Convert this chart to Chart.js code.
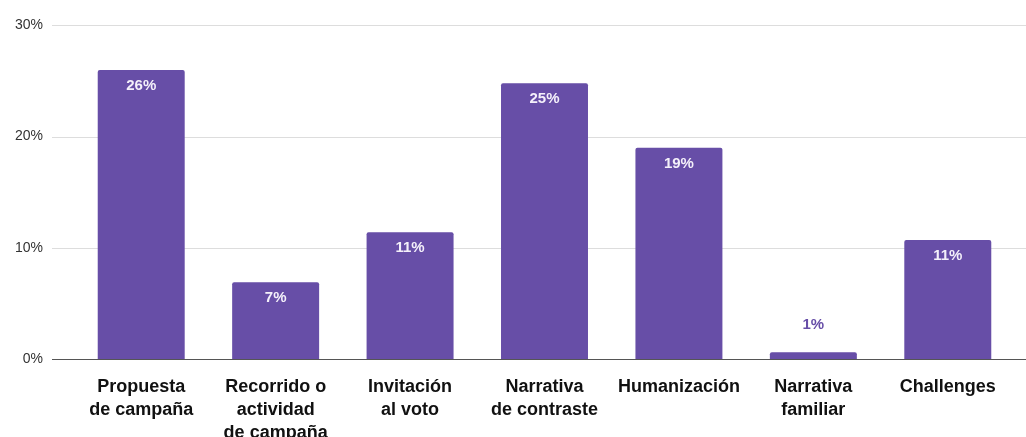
<!DOCTYPE html>
<html>
<head>
<meta charset="utf-8">
<script src="https://cdn.jsdelivr.net/npm/chart.js@4/dist/chart.umd.min.js"></script>
<style>
  html, body { margin: 0; padding: 0; background: #fff; overflow: hidden; }
  #wrap { width: 1026px; height: 443px; margin-top: -6px; }
</style>
</head>
<body>
<div id="wrap"><canvas id="chart"></canvas></div>
<script>
// categories (multi-line labels) and percentages
var categories = [
  ['Propuesta', 'de campaña'],
  ['Recorrido o', 'actividad', 'de campaña'],
  ['Invitación', 'al voto'],
  ['Narrativa', 'de contraste'],
  'Humanización',
  ['Narrativa', 'familiar'],
  'Challenges'
];
var values = [26.0, 6.9, 11.4, 24.8, 19.0, 0.6, 10.7];
var yTicks = [0, 10, 20, 30];

var barColor = '#674ea7';

// horizontal grid lines running the full width like the original
var gridPlugin = {
  id: 'wideGrid',
  beforeDatasetsDraw: function (chart) {
    var ctx = chart.ctx;
    var y = chart.scales.y;
    ctx.save();
    yTicks.forEach(function (t) {
      var py = Math.round(y.getPixelForValue(t)) + 0.5;
      ctx.beginPath();
      ctx.strokeStyle = t === 0 ? '#555555' : '#dddddd';
      ctx.lineWidth = 1;
      ctx.moveTo(52, py);
      ctx.lineTo(chart.width, py);
      ctx.stroke();
    });
    ctx.restore();
  }
};

// value labels: white inside the bar, purple above when the bar is too short
var labelPlugin = {
  id: 'valueLabels',
  afterDatasetsDraw: function (chart) {
    var ctx = chart.ctx;
    var meta = chart.getDatasetMeta(0);
    ctx.save();
    ctx.font = 'bold 15px "Liberation Sans", Arial, sans-serif';
    ctx.textAlign = 'center';
    ctx.textBaseline = 'middle';
    meta.data.forEach(function (bar, i) {
      var txt = Math.round(values[i]) + '%';
      var h = bar.base - bar.y;
      if (h > 30) {
        ctx.fillStyle = '#f4f0fa';
        ctx.fillText(txt, bar.x, bar.y + 16);
      } else {
        ctx.fillStyle = barColor;
        ctx.fillText(txt, bar.x, bar.y - 27);
      }
    });
    ctx.restore();
  }
};

new Chart(document.getElementById('chart').getContext('2d'), {
  type: 'bar',
  data: {
    labels: categories,
    datasets: [{
      data: values,
      backgroundColor: barColor,
      borderRadius: 2,
      borderSkipped: 'bottom',
      barPercentage: 0.647,
      categoryPercentage: 1
    }]
  },
  options: {
    responsive: true,
    maintainAspectRatio: false,
    animation: false,
    layout: { padding: { top: 0, right: 11, left: 0, bottom: 0 } },
    plugins: {
      legend: { display: false },
      tooltip: { enabled: false }
    },
    scales: {
      x: {
        grid: { display: false },
        border: { display: false },
        ticks: {
          color: '#111111',
          padding: 8,
          maxRotation: 0,
          autoSkip: false,
          font: { family: '"Liberation Sans", Arial, sans-serif', size: 18, weight: 'bold', lineHeight: 1.3 }
        },
        afterFit: function (scale) { scale.height = 78; }
      },
      y: {
        min: 0,
        max: 30,
        grid: { display: false },
        border: { display: false },
        afterBuildTicks: function (scale) {
          scale.ticks = yTicks.map(function (v) { return { value: v }; });
        },
        ticks: {
          color: '#333333',
          padding: 23,
          callback: function (v) { return v + '%'; },
          font: { family: '"Liberation Sans", Arial, sans-serif', size: 14 }
        },
        afterFit: function (scale) { scale.width = 74; }
      }
    }
  },
  plugins: [gridPlugin, labelPlugin]
});
</script>
</body>
</html>
